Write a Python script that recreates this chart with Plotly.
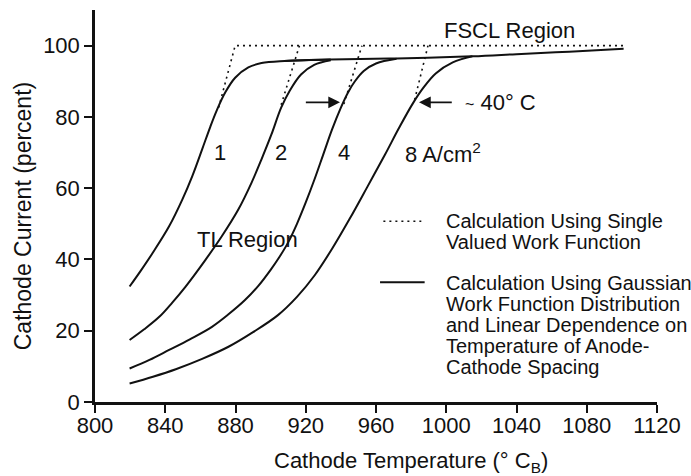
import plotly.graph_objects as go

# ---------------- data ----------------
c1_x = [819.7, 826, 832.8, 842.2, 849.7, 855.4, 861, 865.7, 869.4, 874.2, 879.8, 887.3, 894.8, 907.9, 934.2]
c1_y = [32.4, 36.8, 41.8, 49.3, 56.8, 63.4, 70.9, 77.3, 81.9, 86.9, 91.0, 93.9, 95.1, 95.7, 96.1]

c2_x = [819.7, 828, 836.6, 844, 851.6, 862.9, 872.2, 881.6, 889.1, 894.8, 900.4, 906, 910.8, 917.3, 924.8, 934.2]
c2_y = [17.4, 20.4, 23.9, 27.9, 32.4, 39.9, 46.5, 54, 61.5, 68.1, 75.0, 82.6, 87.3, 91.9, 94.6, 95.9]

c4_x = [819.7, 831, 842.2, 854, 866.6, 876, 885.4, 893, 900, 905, 910, 915, 920, 925, 930, 935, 940, 944, 948,
        953, 960, 971.7]
c4_y = [9.4, 11.8, 14.6, 17.6, 21.1, 24.6, 28.6, 32.6, 37.1, 40.7, 44.8, 50.0, 56.0, 62.5, 69.5, 76.5, 82.6, 86.8, 90.0,
        92.9, 95.0, 96.3]

c8_x = [819.7, 833, 846, 861, 876, 890, 904, 915, 925, 935, 945, 955, 965, 973, 981, 987, 994, 1003.7, 1014.9]
c8_y = [5.2, 7.1, 9.2, 12.1, 15.5, 19.6, 24.3, 29.5, 35.5, 43.0, 51.4, 60.3, 69.3, 76.8, 83.8, 88.2, 92.2, 95.3, 97.0]

plateau_x = [907.9, 934.2, 971.7, 1014.9, 1040, 1070, 1101]
plateau_y = [95.7, 96.1, 96.4, 97.0, 97.6, 98.3, 99.1]

# single valued work function (dotted)
d1_x = [870.4, 879.8, 1101]
d1_y = [82.6, 100, 100]
d2_x = [906, 916.4]
d2_y = [83.4, 100]
d4_x = [941.7, 952]
d4_y = [83.6, 100]
d8_x = [982, 989.6]
d8_y = [84.8, 100]

x_ticks = [800, 840, 880, 920, 960, 1000, 1040, 1080, 1120]
y_ticks = [0, 20, 40, 60, 80, 100]

curve_labels = ["1", "2", "4", "8 A/cm<sup>2</sup>"]
curve_label_x = [871.3, 906, 941.7, 975.5]
curve_label_y = 70

legend_dotted_lines = ["Calculation Using Single", "Valued Work Function"]
legend_solid_lines = ["Calculation Using Gaussian", "Work Function Distribution",
                      "and Linear Dependence on", "Temperature of Anode-",
                      "Cathode Spacing"]
legend_dotted_y = [50.7, 44.8]
legend_solid_y = [33.4, 27.5, 21.6, 15.7, 9.9]
legend_text_x = 998.9

FONT = "Liberation Sans, Arial, Helvetica, sans-serif"
BLACK = "#111111"

fig = go.Figure()

solid = dict(color=BLACK, width=2, shape="spline", smoothing=1.0)
for xs, ys in [(c1_x, c1_y), (c2_x, c2_y), (c4_x, c4_y), (c8_x, c8_y), (plateau_x, plateau_y)]:
    fig.add_trace(go.Scatter(x=xs, y=ys, mode="lines", line=solid,
                             showlegend=False, hoverinfo="skip"))

dotted = dict(color=BLACK, width=1.6, dash="2px,4px")
for xs, ys in [(d1_x, d1_y), (d2_x, d2_y), (d4_x, d4_y), (d8_x, d8_y)]:
    fig.add_trace(go.Scatter(x=xs, y=ys, mode="lines", line=dotted,
                             showlegend=False, hoverinfo="skip"))

annotations = []
for t, x in zip(curve_labels, curve_label_x):
    annotations.append(dict(x=x, y=curve_label_y, text=t, showarrow=False,
                            xanchor="center" if not t.startswith("8") else "left",
                            yanchor="middle", font=dict(size=22, color=BLACK, family=FONT)))

annotations.append(dict(x=886.8, y=45.5, text="TL Region", showarrow=False,
                        font=dict(size=22, color=BLACK, family=FONT)))
annotations.append(dict(x=1036, y=104.2, text="FSCL Region", showarrow=False,
                        font=dict(size=22, color=BLACK, family=FONT)))
annotations.append(dict(x=1009.5, y=84.1, text="<span style='font-size:16px'>~</span> 40° C",
                        showarrow=False, xanchor="left",
                        font=dict(size=22, color=BLACK, family=FONT)))

# arrows
annotations.append(dict(x=939.5, y=84.1, ax=919.2, ay=84.1, axref="x", ayref="y",
                        xref="x", yref="y", text="", showarrow=True, arrowhead=2,
                        arrowsize=1.3, arrowwidth=1.8, arrowcolor=BLACK))
annotations.append(dict(x=984.5, y=84.1, ax=1004, ay=84.1, axref="x", ayref="y",
                        xref="x", yref="y", text="", showarrow=True, arrowhead=2,
                        arrowsize=1.3, arrowwidth=1.8, arrowcolor=BLACK))

for t, y in zip(legend_dotted_lines + legend_solid_lines, legend_dotted_y + legend_solid_y):
    annotations.append(dict(x=legend_text_x, y=y, text=t, showarrow=False, xanchor="left",
                            yanchor="middle", font=dict(size=20, color=BLACK, family=FONT)))

# axis titles
annotations.append(dict(xref="paper", yref="paper", x=0.563, y=-0.154,
                        text="Cathode Temperature (° C<sub>B</sub>)", showarrow=False,
                        xanchor="center", yanchor="middle",
                        font=dict(size=22, color=BLACK, family=FONT)))
annotations.append(dict(xref="paper", yref="paper", x=-0.128, y=0.474,
                        text="Cathode Current (percent)", showarrow=False, textangle=-90,
                        xanchor="center", yanchor="middle",
                        font=dict(size=23, color=BLACK, family=FONT)))

shapes = [
    dict(type="line", xref="x", yref="y", x0=964.2, x1=985.8, y0=50.7, y1=50.7,
         line=dict(color=BLACK, width=1.6, dash="2px,4px")),
    dict(type="line", xref="x", yref="y", x0=962.3, x1=987.7, y0=33.6, y1=33.6,
         line=dict(color=BLACK, width=2)),
]

fig.update_layout(
    width=691, height=476,
    margin=dict(l=95, r=28, t=10, b=74, pad=0),
    paper_bgcolor="white", plot_bgcolor="white",
    font=dict(family=FONT, color=BLACK),
    annotations=annotations, shapes=shapes,
    xaxis=dict(range=[800, 1120], tickvals=x_ticks, ticktext=[str(v) for v in x_ticks],
               ticks="outside", ticklen=8, tickwidth=2, tickcolor=BLACK,
               showline=True, linewidth=2.5, linecolor=BLACK, showgrid=False, zeroline=False,
               tickfont=dict(size=22, family=FONT, color=BLACK), ticklabelstandoff=-6),
    yaxis=dict(range=[0, 110], tickvals=y_ticks, ticktext=[str(v) for v in y_ticks],
               ticks="outside", ticklen=8, tickwidth=2, tickcolor=BLACK,
               showline=True, linewidth=2.5, linecolor=BLACK, showgrid=False, zeroline=False,
               tickfont=dict(size=22, family=FONT, color=BLACK)),
)

fig.write_html("out.html")
